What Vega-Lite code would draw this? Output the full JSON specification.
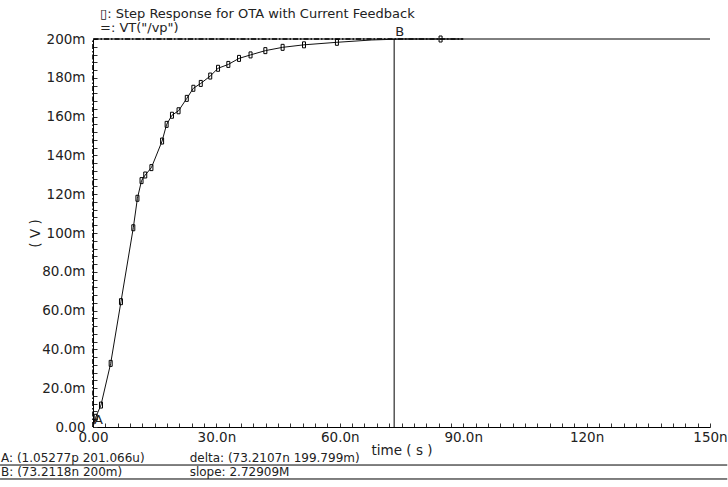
{
  "$schema": "https://vega.github.io/schema/vega-lite/v6.json",
  "width": 617,
  "height": 388,
  "autosize": "none",
  "padding": {"left": 93, "top": 39, "right": 18, "bottom": 60},
  "background": "white",
  "config": {
    "view": {"stroke": null},
    "font": "DejaVu Sans",
    "text": {"font": "DejaVu Sans", "fontSize": 12, "color": "#222"}
  },
  "datasets": {
    "resp": [
      {"t": 0, "v": 0},
      {"t": 0.65e-9, "v": 0.005},
      {"t": 1.94e-9, "v": 0.0113},
      {"t": 4.3e-9, "v": 0.0328},
      {"t": 6.8e-9, "v": 0.0646},
      {"t": 9.8e-9, "v": 0.1027},
      {"t": 10.8e-9, "v": 0.1179},
      {"t": 11.8e-9, "v": 0.127},
      {"t": 12.7e-9, "v": 0.1299},
      {"t": 14.2e-9, "v": 0.1337},
      {"t": 16.8e-9, "v": 0.1474},
      {"t": 17.9e-9, "v": 0.156},
      {"t": 19.2e-9, "v": 0.1607},
      {"t": 20.8e-9, "v": 0.163},
      {"t": 22.8e-9, "v": 0.1694},
      {"t": 24.4e-9, "v": 0.1746},
      {"t": 26.2e-9, "v": 0.1771},
      {"t": 28.5e-9, "v": 0.1809},
      {"t": 30.4e-9, "v": 0.1849},
      {"t": 32.9e-9, "v": 0.1869},
      {"t": 35.5e-9, "v": 0.19},
      {"t": 38.3e-9, "v": 0.1918},
      {"t": 41.9e-9, "v": 0.194},
      {"t": 46.1e-9, "v": 0.1957},
      {"t": 51.3e-9, "v": 0.197},
      {"t": 59.3e-9, "v": 0.1983},
      {"t": 67.8e-9, "v": 0.1995},
      {"t": 75e-9, "v": 0.2},
      {"t": 84.5e-9, "v": 0.2},
      {"t": 90e-9, "v": 0.2}
    ],
    "vt": [
      {"t": 0, "v": 0},
      {"t": 0.001e-9, "v": 0.2},
      {"t": 90e-9, "v": 0.2}
    ],
    "cursors": [
      {"t": 1.05277e-12, "v": 0, "v2": 0.0002, "label": "A"},
      {"t": 7.32118e-8, "v": 0, "v2": 0.2, "label": "B"}
    ],
    "legend": [
      {"t": 1.7e-9, "v": 0.2129, "label": "▯: Step Response for OTA with Current Feedback"},
      {"t": 1.7e-9, "v": 0.2057, "label": "=: VT(\"/vp\")"}
    ],
    "notes": [
      {"t": -2.235e-8, "v": -0.016, "label": "A: (1.05277p 201.066u)"},
      {"t": -2.235e-8, "v": -0.0232, "label": "B: (73.2118n 200m)"},
      {"t": 2.35e-8, "v": -0.016, "label": "delta: (73.2107n 199.799m)"},
      {"t": 2.35e-8, "v": -0.0232, "label": "slope: 2.72909M"}
    ],
    "frame": [
      {"t": 0, "t2": 1.5e-7, "v": 0.2},
      {"t": -2.26e-8, "t2": 1.542e-7, "v": -0.0196},
      {"t": -2.26e-8, "t2": 1.542e-7, "v": -0.0268}
    ]
  },
  "encoding": {
    "x": {
      "field": "t",
      "type": "quantitative",
      "scale": {"domain": [0, 1.5e-7], "nice": false, "zero": false},
      "axis": {
        "title": "time ( s )",
        "values": [0,3e-9,6e-9,9e-9,12e-9,15e-9,18e-9,21e-9,24e-9,27e-9,30e-9,33e-9,36e-9,39e-9,42e-9,45e-9,48e-9,51e-9,54e-9,57e-9,60e-9,63e-9,66e-9,69e-9,72e-9,75e-9,78e-9,81e-9,84e-9,87e-9,90e-9,93e-9,96e-9,99e-9,102e-9,105e-9,108e-9,111e-9,114e-9,117e-9,120e-9,123e-9,126e-9,129e-9,132e-9,135e-9,138e-9,141e-9,144e-9,147e-9,150e-9],
        "format": ".3s",
        "labelExpr": "abs(datum.value/3e-8 - round(datum.value/3e-8)) < 0.001 ? datum.label : ''",
        "grid": false,
        "domainColor": "#000",
        "tickColor": "#333",
        "tickSize": -4,
        "labelPadding": 7,
        "labelFont": "DejaVu Sans",
        "labelFontSize": 13.5,
        "labelColor": "#222",
        "labelOverlap": false,
        "labelFlush": false,
        "titleFont": "DejaVu Sans",
        "titleFontSize": 13.5,
        "titleFontWeight": "normal",
        "titleColor": "#222",
        "titlePadding": 0
      }
    },
    "y": {
      "field": "v",
      "type": "quantitative",
      "scale": {"domain": [0, 0.2], "nice": false},
      "axis": {
        "title": "( V )",
        "values": [0,0.004,0.008,0.012,0.016,0.02,0.024,0.028,0.032,0.036,0.04,0.044,0.048,0.052,0.056,0.06,0.064,0.068,0.072,0.076,0.08,0.084,0.088,0.092,0.096,0.1,0.104,0.108,0.112,0.116,0.12,0.124,0.128,0.132,0.136,0.14,0.144,0.148,0.152,0.156,0.16,0.164,0.168,0.172,0.176,0.18,0.184,0.188,0.192,0.196,0.2],
        "format": ".3s",
        "labelExpr": "abs(datum.value*50 - round(datum.value*50)) < 0.001 ? datum.label : ''",
        "grid": false,
        "domainColor": "#000",
        "tickColor": "#333",
        "tickSize": -4,
        "labelPadding": 12,
        "labelFont": "DejaVu Sans",
        "labelFontSize": 13.5,
        "labelColor": "#222",
        "labelOverlap": false,
        "labelFlush": false,
        "titleFont": "DejaVu Sans",
        "titleFontSize": 13.5,
        "titleFontWeight": "normal",
        "titleColor": "#222",
        "titleX": -58,
        "titleY": 194,
        "titleBaseline": "middle"
      }
    }
  },
  "layer": [
    {
      "data": {"name": "frame"},
      "mark": {"type": "rule", "color": "#000", "strokeWidth": 1},
      "encoding": {"x2": {"field": "t2"}}
    },
    {
      "data": {"name": "vt"},
      "mark": {"type": "line", "color": "#000", "strokeWidth": 1.6, "strokeDash": [5, 2, 1.5, 2]}
    },
    {
      "data": {"name": "resp"},
      "mark": {"type": "line", "color": "#111", "strokeWidth": 1}
    },
    {
      "data": {"name": "resp"},
      "transform": [{"filter": "(datum.t > 0 && datum.t < 6e-8) || (datum.t > 8e-8 && datum.t < 8.8e-8)"}],
      "mark": {"type": "point", "shape": "M-0.5,-1H0.5V1H-0.5Z", "size": 36, "filled": false, "color": "#000", "strokeWidth": 1, "opacity": 1}
    },
    {
      "data": {"name": "cursors"},
      "mark": {"type": "rule", "color": "#000", "strokeWidth": 1},
      "encoding": {"y2": {"field": "v2"}}
    },
    {
      "data": {"name": "cursors"},
      "mark": {"type": "text", "align": "left", "baseline": "bottom", "dx": 1, "fontSize": 13},
      "encoding": {"y": {"field": "v2", "type": "quantitative"}, "text": {"field": "label"}}
    },
    {
      "data": {"name": "legend"},
      "mark": {"type": "text", "align": "left", "baseline": "middle", "fontSize": 13},
      "encoding": {"text": {"field": "label"}}
    },
    {
      "data": {"name": "notes"},
      "mark": {"type": "text", "align": "left", "baseline": "middle", "fontSize": 12},
      "encoding": {"text": {"field": "label"}}
    }
  ]
}
